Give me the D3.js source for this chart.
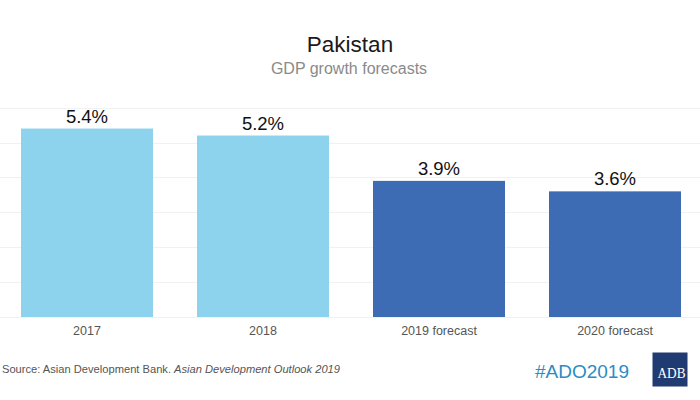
<!DOCTYPE html>
<html><head><meta charset="utf-8">
<script src="https://cdn.jsdelivr.net/npm/d3@7"></script>
<style>body{margin:0;background:#fff}svg{display:block;font-family:"Liberation Sans",Arial,sans-serif}</style>
</head><body><svg id="c" width="700" height="400"></svg>
<script>
const categories = ["2017", "2018", "2019 forecast", "2020 forecast"];
const values = [5.4, 5.2, 3.9, 3.6];
const isForecast = [false, false, true, true];
const valueLabels = ["5.4%", "5.2%", "3.9%", "3.6%"];
const gridTicks = [0, 1, 2, 3, 4, 5, 6];

const svg = d3.select("#c");
const x = d3.scaleBand().domain(categories).range([-1, 703]).paddingInner(0.25).paddingOuter(0.125);
const y = d3.scaleLinear().domain([0, 6]).range([317, 107.6]);

svg.append("g").selectAll("line").data(gridTicks).join("line")
  .attr("x1", 0).attr("x2", 700)
  .attr("y1", d => Math.round(y(d)) + 0.5).attr("y2", d => Math.round(y(d)) + 0.5)
  .attr("stroke", "#f1f1f1").attr("stroke-width", 1);

svg.append("g").selectAll("rect").data(values).join("rect")
  .attr("x", (d, i) => x(categories[i]))
  .attr("width", x.bandwidth())
  .attr("y", d => y(d))
  .attr("height", d => y(0) - y(d))
  .attr("fill", (d, i) => isForecast[i] ? "#3e6cb4" : "#8dd3ee");

svg.append("g").selectAll("text").data(values).join("text")
  .attr("x", (d, i) => x(categories[i]) + x.bandwidth() / 2)
  .attr("y", d => y(d) - 6)
  .attr("text-anchor", "middle").attr("font-size", 18.5).attr("fill", "#111")
  .text((d, i) => valueLabels[i]);

const xAxis = svg.append("g").attr("transform", "translate(0,317)")
  .call(d3.axisBottom(x).tickSize(0).tickPadding(9));
xAxis.select(".domain").remove();
xAxis.selectAll("text").attr("font-size", 12.5).attr("fill", "#555")
  .attr("font-family", "Liberation Sans, Arial, sans-serif");

svg.append("text").attr("x", 350).attr("y", 52).attr("text-anchor", "middle")
  .attr("font-size", 22.5).attr("fill", "#1a1a1a").text("Pakistan");
svg.append("text").attr("x", 349).attr("y", 74).attr("text-anchor", "middle")
  .attr("font-size", 16).attr("fill", "#8a8a8a").text("GDP growth forecasts");

const src = svg.append("text").attr("x", 2).attr("y", 373).attr("font-size", 11.6).attr("fill", "#555")
  .attr("textLength", 338).attr("lengthAdjust", "spacingAndGlyphs");
src.append("tspan").text("Source: Asian Development Bank. ");
src.append("tspan").attr("font-style", "italic").text("Asian Development Outlook 2019");

svg.append("text").attr("x", 535).attr("y", 378).attr("font-size", 19).attr("fill", "#2b8cc4").text("#ADO2019");

svg.append("rect").attr("x", 652.5).attr("y", 352.5).attr("width", 35).attr("height", 34).attr("fill", "#1f3b72");
svg.append("text").attr("x", 657.5).attr("y", 378)
  .attr("font-family", "Liberation Serif, Times New Roman, serif")
  .attr("font-size", 15.5).attr("fill", "#fff")
  .attr("textLength", 28).attr("lengthAdjust", "spacingAndGlyphs").text("ADB");
</script></body></html>
